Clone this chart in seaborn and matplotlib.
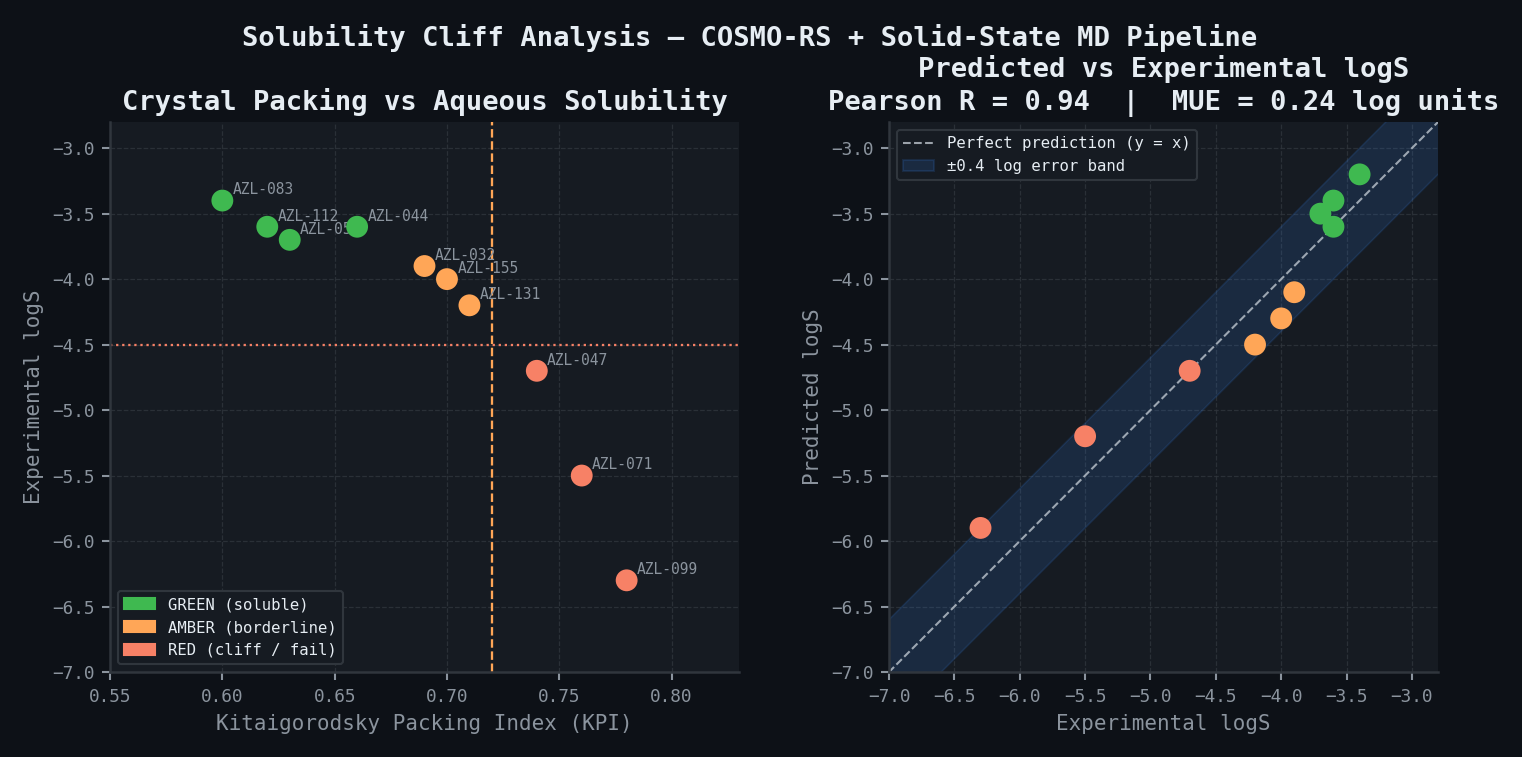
import numpy as np
import pandas as pd
import matplotlib.pyplot as plt
import matplotlib.patches as mpatches
from matplotlib.lines import Line2D
import seaborn as sns

# ----------------------------------------------------
# Data
# ----------------------------------------------------
compounds = ['AZL-083', 'AZL-112', 'AZL-058', 'AZL-044', 'AZL-032',
             'AZL-155', 'AZL-131', 'AZL-047', 'AZL-071', 'AZL-099']
kpi = [0.60, 0.62, 0.63, 0.66, 0.69, 0.70, 0.71, 0.74, 0.76, 0.78]
exp_logs = [-3.4, -3.6, -3.7, -3.6, -3.9, -4.0, -4.2, -4.7, -5.5, -6.3]
pred_logs = [-3.2, -3.4, -3.5, -3.6, -4.1, -4.3, -4.5, -4.7, -5.2, -5.9]
tiers = ['GREEN', 'GREEN', 'GREEN', 'GREEN', 'AMBER',
         'AMBER', 'AMBER', 'RED', 'RED', 'RED']

kpi_cutoff = 0.72
logs_cutoff = -4.5
band = 0.4

BG = '#0d1117'
PANEL = '#161b22'
EDGE = '#30363d'
MUTED = '#8b949e'
TEXT = '#e6edf3'
palette = {'GREEN': '#3fb950', 'AMBER': '#ffa657', 'RED': '#f78166'}
tier_labels = {'GREEN': 'GREEN (soluble)', 'AMBER': 'AMBER (borderline)',
               'RED': 'RED (cliff / fail)'}

df = pd.DataFrame({'compound': compounds, 'kpi': kpi, 'exp': exp_logs,
                   'pred': pred_logs, 'tier': tiers})

sns.set_theme(style='dark')
plt.rcParams['font.family'] = ['DejaVu Sans Mono', 'DejaVu Sans']
plt.rcParams['axes.unicode_minus'] = True

fig = plt.figure(figsize=(10.147, 5.047), dpi=150, facecolor=BG)
ax1 = fig.add_axes([0.0723, 0.1123, 0.4132, 0.7265])
ax2 = fig.add_axes([0.5841, 0.1123, 0.3607, 0.7265])

for ax in (ax1, ax2):
    ax.set_facecolor(PANEL)
    ax.grid(True, color=EDGE, linestyle='--', linewidth=0.6, alpha=0.8)
    ax.set_axisbelow(True)
    for side in ('top', 'right'):
        ax.spines[side].set_visible(False)
    for side in ('left', 'bottom'):
        ax.spines[side].set_color(EDGE)
        ax.spines[side].set_linewidth(1.2)
    ax.tick_params(colors=MUTED, labelsize=8.5, length=4, width=1,
                   bottom=True, left=True)

# ----------------------------------------------------
# Panel 1: KPI vs experimental logS
# ----------------------------------------------------
ax1.axvline(kpi_cutoff, color=palette['AMBER'], linestyle='--', linewidth=1.1, zorder=1)
ax1.axhline(logs_cutoff, color=palette['RED'], linestyle=':', linewidth=1.1, zorder=1)

for _, row in df.iterrows():
    ax1.annotate(row['compound'], (row['kpi'], row['exp']), xytext=(5, 3),
                 textcoords='offset points', fontsize=7, color=MUTED, zorder=2)

sns.scatterplot(data=df, x='kpi', y='exp', hue='tier', palette=palette, s=110,
                edgecolor='none', legend=False, ax=ax1, zorder=3)

ax1.set_xlim(0.55, 0.83)
ax1.set_ylim(-7.0, -2.8)
ax1.set_xticks([0.55, 0.60, 0.65, 0.70, 0.75, 0.80])
ax1.set_yticks(np.arange(-7.0, -2.9, 0.5))
ax1.set_xlabel('Kitaigorodsky Packing Index (KPI)', color=MUTED, fontsize=10)
ax1.set_ylabel('Experimental logS', color=MUTED, fontsize=10)
ax1.set_title('Crystal Packing vs Aqueous Solubility', color=TEXT,
              fontsize=13, fontweight='bold')

handles = [mpatches.Patch(color=palette[t], label=tier_labels[t]) for t in palette]
leg1 = ax1.legend(handles=handles, loc='lower left', fontsize=7.5,
                  facecolor=PANEL, edgecolor=EDGE, framealpha=1)
for t in leg1.get_texts():
    t.set_color(TEXT)

# ----------------------------------------------------
# Panel 2: predicted vs experimental logS
# ----------------------------------------------------
diag = np.linspace(-7.6, -2.2, 50)
ax2.fill_between(diag, diag - band, diag + band, color='#388bfd', alpha=0.14,
                 edgecolor='#388bfd', linewidth=0.8, zorder=1)
ax2.plot(diag, diag, color='#c9d1d9', linestyle='--', linewidth=1, alpha=0.75, zorder=2)

sns.scatterplot(data=df, x='exp', y='pred', hue='tier', palette=palette, s=110,
                edgecolor='none', legend=False, ax=ax2, zorder=3)

ax2.set_xlim(-7.0, -2.8)
ax2.set_ylim(-7.0, -2.8)
ax2.set_xticks(np.arange(-7.0, -2.9, 0.5))
ax2.set_yticks(np.arange(-7.0, -2.9, 0.5))
ax2.set_xlabel('Experimental logS', color=MUTED, fontsize=10)
ax2.set_ylabel('Predicted logS', color=MUTED, fontsize=10)
ax2.set_title('Predicted vs Experimental logS\nPearson R = 0.94  |  MUE = 0.24 log units',
              color=TEXT, fontsize=13, fontweight='bold')

handles2 = [Line2D([0], [0], color='#c9d1d9', linestyle='--', linewidth=1, alpha=0.75,
                   label='Perfect prediction (y = x)'),
            mpatches.Patch(facecolor='#388bfd', alpha=0.14, edgecolor='#388bfd',
                           label='\u00b10.4 log error band')]
leg2 = ax2.legend(handles=handles2, loc='upper left', fontsize=7.5,
                  facecolor=PANEL, edgecolor=EDGE, framealpha=1)
for t in leg2.get_texts():
    t.set_color(TEXT)

fig.suptitle('Solubility Cliff Analysis \u2014 COSMO-RS + Solid-State MD Pipeline',
             color=TEXT, fontsize=13, fontweight='bold', x=0.4925, y=0.968)

fig.savefig('out.png', dpi=150, facecolor=BG)
